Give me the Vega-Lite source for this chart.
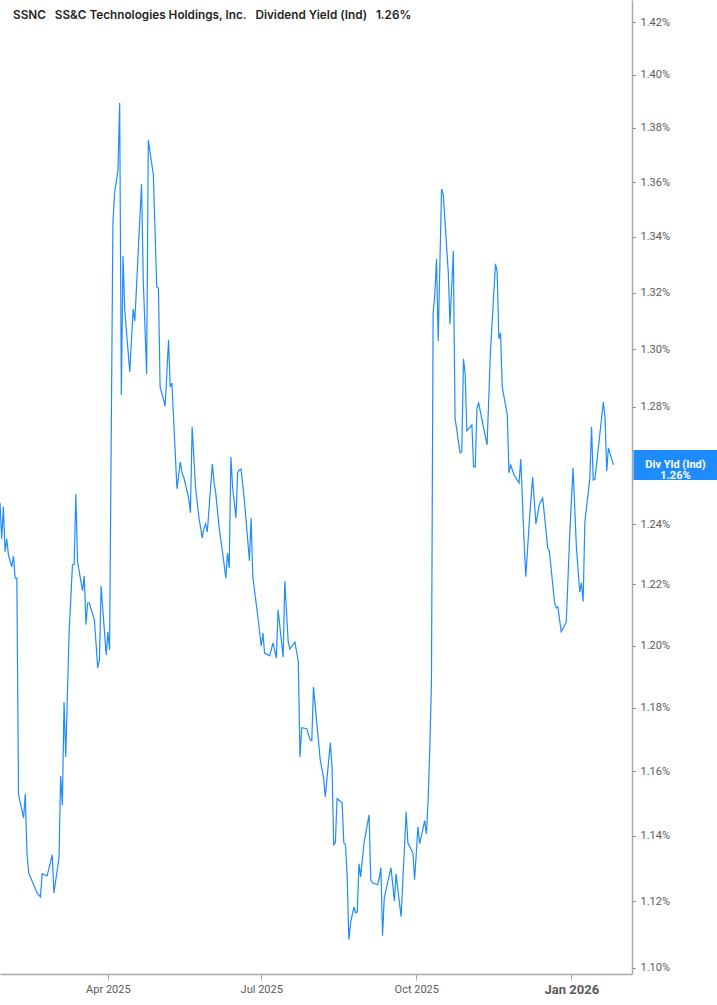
{
  "$schema": "https://vega.github.io/schema/vega-lite/v6.json",
  "description": "SSNC dividend yield (indicated), daily",
  "width": 632,
  "height": 974,
  "autosize": {"type": "none"},
  "padding": {"left": 0, "top": 0, "right": 85, "bottom": 31},
  "background": "#ffffff",
  "config": {
    "view": {"stroke": null},
    "font": "Inter",
    "axis": {"labelFont": "Roboto", "title": null, "grid": false}
  },
  "title": {
    "text": "SSNC\u00a0\u00a0\u00a0SS&C Technologies Holdings, Inc.\u00a0\u00a0\u00a0Dividend Yield (Ind)\u00a0\u00a0\u00a01.26%",
    "anchor": "start",
    "frame": "group",
    "orient": "top",
    "offset": -22,
    "dx": 13,
    "font": "Inter",
    "fontSize": 11.75,
    "fontWeight": 600,
    "color": "#1f1f1f"
  },
  "data": {
    "values": [
      {"date": "2025-01-27", "v": 1.2472},
      {"date": "2025-01-28", "v": 1.2351},
      {"date": "2025-01-29", "v": 1.2458},
      {"date": "2025-01-30", "v": 1.2308},
      {"date": "2025-01-31", "v": 1.2351},
      {"date": "2025-02-01", "v": 1.2298},
      {"date": "2025-02-03", "v": 1.2258},
      {"date": "2025-02-04", "v": 1.2294},
      {"date": "2025-02-05", "v": 1.2221},
      {"date": "2025-02-06", "v": 1.2221},
      {"date": "2025-02-07", "v": 1.1526},
      {"date": "2025-02-10", "v": 1.1455},
      {"date": "2025-02-11", "v": 1.1529},
      {"date": "2025-02-12", "v": 1.1347},
      {"date": "2025-02-13", "v": 1.1286},
      {"date": "2025-02-18", "v": 1.1225},
      {"date": "2025-02-20", "v": 1.1213},
      {"date": "2025-02-21", "v": 1.1283},
      {"date": "2025-02-24", "v": 1.1277},
      {"date": "2025-02-27", "v": 1.1341},
      {"date": "2025-02-28", "v": 1.1225},
      {"date": "2025-03-03", "v": 1.1332},
      {"date": "2025-03-04", "v": 1.1585},
      {"date": "2025-03-05", "v": 1.1495},
      {"date": "2025-03-06", "v": 1.1819},
      {"date": "2025-03-07", "v": 1.1645},
      {"date": "2025-03-09", "v": 1.2041},
      {"date": "2025-03-11", "v": 1.2265},
      {"date": "2025-03-12", "v": 1.2265},
      {"date": "2025-03-13", "v": 1.2502},
      {"date": "2025-03-14", "v": 1.2275},
      {"date": "2025-03-17", "v": 1.2179},
      {"date": "2025-03-18", "v": 1.2228},
      {"date": "2025-03-19", "v": 1.2068},
      {"date": "2025-03-20", "v": 1.2139},
      {"date": "2025-03-21", "v": 1.2139},
      {"date": "2025-03-24", "v": 1.2084},
      {"date": "2025-03-26", "v": 1.1928},
      {"date": "2025-03-27", "v": 1.1954},
      {"date": "2025-03-28", "v": 1.2195},
      {"date": "2025-03-31", "v": 1.197},
      {"date": "2025-04-01", "v": 1.2045},
      {"date": "2025-04-02", "v": 1.1986},
      {"date": "2025-04-04", "v": 1.345},
      {"date": "2025-04-05", "v": 1.356},
      {"date": "2025-04-07", "v": 1.3644},
      {"date": "2025-04-08", "v": 1.3893},
      {"date": "2025-04-09", "v": 1.284},
      {"date": "2025-04-10", "v": 1.3331},
      {"date": "2025-04-11", "v": 1.3138},
      {"date": "2025-04-14", "v": 1.292},
      {"date": "2025-04-16", "v": 1.3142},
      {"date": "2025-04-17", "v": 1.3099},
      {"date": "2025-04-21", "v": 1.3593},
      {"date": "2025-04-22", "v": 1.3245},
      {"date": "2025-04-24", "v": 1.2913},
      {"date": "2025-04-25", "v": 1.3755},
      {"date": "2025-04-28", "v": 1.3626},
      {"date": "2025-04-30", "v": 1.322},
      {"date": "2025-05-01", "v": 1.3216},
      {"date": "2025-05-02", "v": 1.2868},
      {"date": "2025-05-05", "v": 1.2802},
      {"date": "2025-05-07", "v": 1.3032},
      {"date": "2025-05-08", "v": 1.2868},
      {"date": "2025-05-09", "v": 1.2882},
      {"date": "2025-05-12", "v": 1.2519},
      {"date": "2025-05-14", "v": 1.261},
      {"date": "2025-05-15", "v": 1.2573},
      {"date": "2025-05-16", "v": 1.2559},
      {"date": "2025-05-19", "v": 1.2488},
      {"date": "2025-05-20", "v": 1.2438},
      {"date": "2025-05-21", "v": 1.273},
      {"date": "2025-05-23", "v": 1.2526},
      {"date": "2025-05-25", "v": 1.2424},
      {"date": "2025-05-27", "v": 1.2354},
      {"date": "2025-05-28", "v": 1.2387},
      {"date": "2025-05-29", "v": 1.2401},
      {"date": "2025-05-30", "v": 1.2374},
      {"date": "2025-06-02", "v": 1.2603},
      {"date": "2025-06-03", "v": 1.2539},
      {"date": "2025-06-04", "v": 1.2505},
      {"date": "2025-06-06", "v": 1.2391},
      {"date": "2025-06-08", "v": 1.2308},
      {"date": "2025-06-10", "v": 1.2221},
      {"date": "2025-06-11", "v": 1.2304},
      {"date": "2025-06-12", "v": 1.2255},
      {"date": "2025-06-13", "v": 1.2627},
      {"date": "2025-06-14", "v": 1.2526},
      {"date": "2025-06-16", "v": 1.2421},
      {"date": "2025-06-17", "v": 1.2573},
      {"date": "2025-06-18", "v": 1.2583},
      {"date": "2025-06-19", "v": 1.2586},
      {"date": "2025-06-21", "v": 1.2482},
      {"date": "2025-06-24", "v": 1.2278},
      {"date": "2025-06-25", "v": 1.2421},
      {"date": "2025-06-26", "v": 1.2225},
      {"date": "2025-06-29", "v": 1.2094},
      {"date": "2025-07-01", "v": 1.1999},
      {"date": "2025-07-02", "v": 1.2041},
      {"date": "2025-07-03", "v": 1.1976},
      {"date": "2025-07-06", "v": 1.1967},
      {"date": "2025-07-08", "v": 1.2009},
      {"date": "2025-07-10", "v": 1.196},
      {"date": "2025-07-11", "v": 1.2117},
      {"date": "2025-07-14", "v": 1.1963},
      {"date": "2025-07-15", "v": 1.2211},
      {"date": "2025-07-17", "v": 1.2012},
      {"date": "2025-07-18", "v": 1.1989},
      {"date": "2025-07-21", "v": 1.2012},
      {"date": "2025-07-23", "v": 1.1948},
      {"date": "2025-07-24", "v": 1.1645},
      {"date": "2025-07-25", "v": 1.1737},
      {"date": "2025-07-28", "v": 1.1734},
      {"date": "2025-07-30", "v": 1.1699},
      {"date": "2025-07-31", "v": 1.1696},
      {"date": "2025-08-01", "v": 1.1867},
      {"date": "2025-08-05", "v": 1.1636},
      {"date": "2025-08-07", "v": 1.1579},
      {"date": "2025-08-08", "v": 1.152},
      {"date": "2025-08-11", "v": 1.1689},
      {"date": "2025-08-12", "v": 1.1614},
      {"date": "2025-08-13", "v": 1.1372},
      {"date": "2025-08-14", "v": 1.1378},
      {"date": "2025-08-15", "v": 1.1514},
      {"date": "2025-08-18", "v": 1.1502},
      {"date": "2025-08-19", "v": 1.1378},
      {"date": "2025-08-20", "v": 1.1372},
      {"date": "2025-08-21", "v": 1.1274},
      {"date": "2025-08-22", "v": 1.1084},
      {"date": "2025-08-23", "v": 1.1135},
      {"date": "2025-08-25", "v": 1.1183},
      {"date": "2025-08-26", "v": 1.1165},
      {"date": "2025-08-27", "v": 1.1168},
      {"date": "2025-08-28", "v": 1.1314},
      {"date": "2025-08-29", "v": 1.1274},
      {"date": "2025-08-31", "v": 1.1378},
      {"date": "2025-09-03", "v": 1.1464},
      {"date": "2025-09-04", "v": 1.1265},
      {"date": "2025-09-05", "v": 1.1256},
      {"date": "2025-09-08", "v": 1.125},
      {"date": "2025-09-09", "v": 1.1268},
      {"date": "2025-09-10", "v": 1.1302},
      {"date": "2025-09-11", "v": 1.1096},
      {"date": "2025-09-12", "v": 1.121},
      {"date": "2025-09-14", "v": 1.1256},
      {"date": "2025-09-16", "v": 1.1302},
      {"date": "2025-09-18", "v": 1.1201},
      {"date": "2025-09-19", "v": 1.1283},
      {"date": "2025-09-22", "v": 1.1153},
      {"date": "2025-09-25", "v": 1.1474},
      {"date": "2025-09-26", "v": 1.1378},
      {"date": "2025-09-29", "v": 1.1347},
      {"date": "2025-09-30", "v": 1.1265},
      {"date": "2025-10-02", "v": 1.1427},
      {"date": "2025-10-03", "v": 1.1375},
      {"date": "2025-10-06", "v": 1.1446},
      {"date": "2025-10-07", "v": 1.1405},
      {"date": "2025-10-08", "v": 1.1505},
      {"date": "2025-10-09", "v": 1.1667},
      {"date": "2025-10-10", "v": 1.188},
      {"date": "2025-10-11", "v": 1.3128},
      {"date": "2025-10-12", "v": 1.3191},
      {"date": "2025-10-13", "v": 1.332},
      {"date": "2025-10-14", "v": 1.3029},
      {"date": "2025-10-16", "v": 1.3574},
      {"date": "2025-10-17", "v": 1.3556},
      {"date": "2025-10-20", "v": 1.327},
      {"date": "2025-10-21", "v": 1.3089},
      {"date": "2025-10-23", "v": 1.3349},
      {"date": "2025-10-24", "v": 1.2761},
      {"date": "2025-10-27", "v": 1.2641},
      {"date": "2025-10-28", "v": 1.2645},
      {"date": "2025-10-29", "v": 1.2966},
      {"date": "2025-10-30", "v": 1.2913},
      {"date": "2025-10-31", "v": 1.2716},
      {"date": "2025-11-03", "v": 1.2737},
      {"date": "2025-11-04", "v": 1.2593},
      {"date": "2025-11-05", "v": 1.2593},
      {"date": "2025-11-06", "v": 1.2795},
      {"date": "2025-11-07", "v": 1.2812},
      {"date": "2025-11-12", "v": 1.2668},
      {"date": "2025-11-14", "v": 1.299},
      {"date": "2025-11-17", "v": 1.3303},
      {"date": "2025-11-18", "v": 1.3274},
      {"date": "2025-11-19", "v": 1.3036},
      {"date": "2025-11-20", "v": 1.3057},
      {"date": "2025-11-21", "v": 1.2868},
      {"date": "2025-11-24", "v": 1.2771},
      {"date": "2025-11-25", "v": 1.2573},
      {"date": "2025-11-26", "v": 1.26},
      {"date": "2025-11-28", "v": 1.2566},
      {"date": "2025-12-01", "v": 1.2539},
      {"date": "2025-12-02", "v": 1.262},
      {"date": "2025-12-04", "v": 1.2338},
      {"date": "2025-12-05", "v": 1.2225},
      {"date": "2025-12-07", "v": 1.2404},
      {"date": "2025-12-09", "v": 1.2559},
      {"date": "2025-12-11", "v": 1.2401},
      {"date": "2025-12-13", "v": 1.2465},
      {"date": "2025-12-15", "v": 1.2488},
      {"date": "2025-12-18", "v": 1.2321},
      {"date": "2025-12-19", "v": 1.2308},
      {"date": "2025-12-22", "v": 1.2143},
      {"date": "2025-12-23", "v": 1.2123},
      {"date": "2025-12-24", "v": 1.2126},
      {"date": "2025-12-26", "v": 1.2045},
      {"date": "2025-12-29", "v": 1.2077},
      {"date": "2025-12-31", "v": 1.2358},
      {"date": "2026-01-02", "v": 1.259},
      {"date": "2026-01-04", "v": 1.2324},
      {"date": "2026-01-06", "v": 1.2175},
      {"date": "2026-01-07", "v": 1.2205},
      {"date": "2026-01-08", "v": 1.2143},
      {"date": "2026-01-09", "v": 1.2404},
      {"date": "2026-01-12", "v": 1.2556},
      {"date": "2026-01-13", "v": 1.273},
      {"date": "2026-01-14", "v": 1.2549},
      {"date": "2026-01-15", "v": 1.2552},
      {"date": "2026-01-18", "v": 1.2709},
      {"date": "2026-01-20", "v": 1.2816},
      {"date": "2026-01-21", "v": 1.2761},
      {"date": "2026-01-22", "v": 1.2579},
      {"date": "2026-01-23", "v": 1.2658},
      {"date": "2026-01-26", "v": 1.26}
    ]
  },
  "encoding": {
    "x": {
      "field": "date",
      "type": "temporal",
      "scale": {"type": "utc", "domain": ["2025-01-27", "2026-02-06"], "nice": false},
      "axis": {
        "values": ["2025-04-01", "2025-07-01", "2025-10-01", "2026-01-01"],
        "labelExpr": "utcFormat(datum.value, '%b %Y')",
        "domainColor": "#a8a8a8",
        "domainWidth": 1.5,
        "tickColor": "#a8a8a8",
        "tickSize": 6,
        "labelPadding": 3,
        "labelColor": "#5a5a5a",
        "labelFontSize": {"condition": {"test": "utcmonth(datum.value) === 0", "value": 13}, "value": 11},
        "labelFontWeight": {"condition": {"test": "utcmonth(datum.value) === 0", "value": "bold"}, "value": "normal"},
        "labelFont": "Roboto"
      }
    },
    "y": {
      "field": "v",
      "type": "quantitative",
      "scale": {"type": "log", "domain": [1.0982, 1.4285], "nice": false, "zero": false},
      "axis": {
        "orient": "right",
        "values": [1.1, 1.12, 1.14, 1.16, 1.18, 1.2, 1.22, 1.24, 1.28, 1.3, 1.32, 1.34, 1.36, 1.38, 1.4, 1.42],
        "labelExpr": "format(datum.value, '.2f') + '%'",
        "domainColor": "#a8a8a8",
        "domainWidth": 1.5,
        "tickColor": "#777777",
        "tickSize": 3,
        "labelPadding": 5,
        "labelColor": "#5a5a5a",
        "labelFontSize": 11,
        "labelFont": "Roboto"
      }
    }
  },
  "layer": [
    {
      "mark": {"type": "line", "color": "#1e8cff", "strokeWidth": 1.2}
    },
    {
      "transform": [{"filter": "utcyear(datum.date) === 2026 && utcdate(datum.date) === 26"}],
      "mark": {
        "type": "point",
        "shape": "M-1,-0.357H1V0.357H-1Z",
        "size": 7056,
        "filled": true,
        "opacity": 1,
        "color": "#1e8cff",
        "xOffset": 62
      }
    },
    {
      "transform": [{"filter": "utcyear(datum.date) === 2026 && utcdate(datum.date) === 26"}],
      "mark": {
        "type": "text",
        "text": ["Div Yld (Ind)", "1.26%"],
        "color": "#ffffff",
        "font": "Roboto",
        "fontWeight": "bold",
        "fontSize": 11,
        "lineHeight": 11,
        "align": "center",
        "baseline": "middle",
        "dx": 62
      }
    }
  ]
}
